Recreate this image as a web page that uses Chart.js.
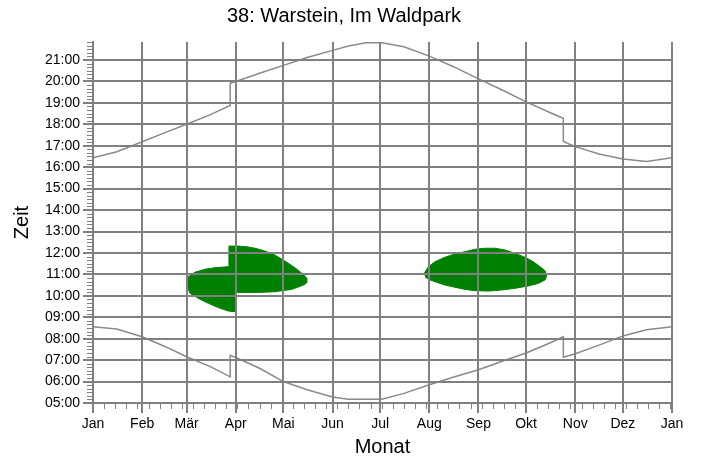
<!DOCTYPE html>
<html>
<head>
<meta charset="utf-8">
<script src="https://cdn.jsdelivr.net/npm/chart.js@4/dist/chart.umd.min.js"></script>
<style>
  html, body { margin: 0; padding: 0; background: #fff; }
  #wrap { width: 701px; height: 461px; }
</style>
</head>
<body>
<div id="wrap"><canvas id="chart" width="701" height="461"></canvas></div>
<script>
// --- axis data ---
const monthStarts = [0, 31, 59, 90, 120, 151, 181, 212, 243, 273, 304, 334, 365];
const monthLabels = ['Jan', 'Feb', 'Mär', 'Apr', 'Mai', 'Jun', 'Jul', 'Aug', 'Sep', 'Okt', 'Nov', 'Dez', 'Jan'];
const hourTicks = [5, 6, 7, 8, 9, 10, 11, 12, 13, 14, 15, 16, 17, 18, 19, 20, 21];
const timeMin = 5;
const timeMax = 21.84;
const minorDayStep = 7;      // Wochen-Striche an der x-Achse
const minorMinuteStep = 10;  // 10-Minuten-Striche an der y-Achse

// --- Sonnenauf-/untergang (Tag im Jahr, Uhrzeit in Stunden) ---
const sunDays = [0, 15, 31, 45, 59, 74, 86.5, 86.5, 90, 105, 120, 135, 151, 161, 172, 182, 196, 212, 227, 243, 258, 273, 288, 296.5, 296.5, 304, 319, 334, 349, 365];
const sunset  = [16.44, 16.72, 17.19, 17.6, 18.0, 18.45, 18.88, 19.92, 20.0, 20.38, 20.75, 21.12, 21.45, 21.65, 21.8, 21.8, 21.62, 21.18, 20.7, 20.12, 19.6, 19.05, 18.55, 18.28, 17.2, 16.96, 16.62, 16.38, 16.27, 16.44];
const sunrise = [8.56, 8.45, 8.09, 7.65, 7.16, 6.7, 6.22, 7.22, 7.12, 6.62, 6.0, 5.62, 5.28, 5.17, 5.17, 5.18, 5.45, 5.85, 6.2, 6.55, 6.95, 7.33, 7.8, 8.09, 7.13, 7.3, 7.7, 8.13, 8.42, 8.56];

// --- Schattenwurf-Zeiträume (Umriss, Tag / Stunde) ---
const springDays  = [59.1, 60.1, 64.3, 70.6, 76.9, 85.3, 85.7, 91.6, 96.9, 102.1, 108.4, 114.7, 121.0, 127.3, 132.6, 134.7, 134.7, 132.6, 125.3, 114.7, 104.2, 93.7, 89.1, 89.1, 85.3, 79.0, 72.7, 66.4, 61.1, 59.1];
const springHours = [10.69, 10.89, 11.10, 11.24, 11.31, 11.36, 12.32, 12.32, 12.29, 12.22, 12.09, 11.90, 11.62, 11.31, 11.00, 10.82, 10.60, 10.50, 10.30, 10.19, 10.16, 10.16, 10.16, 9.26, 9.29, 9.45, 9.65, 9.88, 10.12, 10.50];
const autumnDays  = [208.9, 211.4, 215.6, 221.9, 228.2, 234.5, 240.8, 247.1, 253.4, 259.7, 266.0, 272.3, 277.6, 281.8, 285.0, 286.0, 285.0, 280.7, 274.4, 266.0, 257.6, 249.2, 240.8, 234.5, 228.2, 221.9, 215.6, 211.4, 209.3];
const autumnHours = [11.06, 11.36, 11.59, 11.80, 11.95, 12.06, 12.17, 12.22, 12.22, 12.14, 11.98, 11.80, 11.59, 11.36, 11.17, 10.92, 10.74, 10.58, 10.46, 10.35, 10.27, 10.22, 10.24, 10.30, 10.40, 10.50, 10.66, 10.77, 10.89];

const gridColor = '#808080';
const lineColor = '#8a8a8a';
const shadowColor = 'rgb(0,128,0)';
const fontFamily = "'Liberation Sans', Arial, sans-serif";

const toPoints = (xs, ys) => xs.map((x, i) => ({ x: x, y: ys[i] }));
const pad2 = n => String(n).padStart(2, '0');

// kurze Zwischenstriche an beiden Achsen
const minorTicks = {
    id: 'minorTicks',
    afterDraw(chart) {
        const { ctx, chartArea, scales: { x, y } } = chart;
        ctx.save();
        ctx.strokeStyle = gridColor;
        ctx.lineWidth = 1;
        ctx.beginPath();
        for (let d = minorDayStep; d < 365; d += minorDayStep) {
            const px = Math.round(x.getPixelForValue(d)) + 0.5;
            ctx.moveTo(px, chartArea.bottom);
            ctx.lineTo(px, chartArea.bottom + 6);
        }
        for (let m = timeMin * 60 + minorMinuteStep; m <= timeMax * 60; m += minorMinuteStep) {
            if (m % 60 === 0) continue;
            const py = Math.round(y.getPixelForValue(m / 60)) + 0.5;
            ctx.moveTo(chartArea.left - 6, py);
            ctx.lineTo(chartArea.left, py);
        }
        ctx.stroke();
        ctx.restore();
    }
};

const lineStyle = { showLine: true, pointRadius: 0, borderColor: lineColor, borderWidth: 1.5, fill: false, tension: 0 };
const shapeStyle = { showLine: true, pointRadius: 0, borderColor: shadowColor, backgroundColor: shadowColor, borderWidth: 1, fill: 'shape', tension: 0 };

new Chart(document.getElementById('chart'), {
    type: 'scatter',
    data: {
        datasets: [
            { label: 'Schatten Frühjahr', data: toPoints(springDays, springHours), ...shapeStyle },
            { label: 'Schatten Herbst', data: toPoints(autumnDays, autumnHours), ...shapeStyle },
            { label: 'Sonnenuntergang', data: toPoints(sunDays, sunset), ...lineStyle },
            { label: 'Sonnenaufgang', data: toPoints(sunDays, sunrise), ...lineStyle }
        ]
    },
    options: {
        responsive: false,
        animation: false,
        layout: { padding: { left: 16, right: 29, top: 0, bottom: 0 } },
        plugins: {
            legend: { display: false },
            tooltip: { enabled: false },
            title: {
                display: true,
                text: '38: Warstein, Im Waldpark',
                color: '#000',
                font: { family: fontFamily, size: 20, weight: 'normal' },
                padding: { top: 4, bottom: 14 }
            }
        },
        scales: {
            x: {
                type: 'linear',
                min: 0,
                max: 365,
                afterBuildTicks: s => { s.ticks = monthStarts.map(v => ({ value: v })); },
                afterFit: s => { s.height = 58; },
                ticks: {
                    autoSkip: false,
                    maxRotation: 0,
                    padding: 3,
                    color: '#000',
                    font: { family: fontFamily, size: 14 },
                    callback: (v, i) => monthLabels[i]
                },
                grid: { color: gridColor, lineWidth: 2, tickLength: 10, z: 1 },
                border: { display: true, color: gridColor, width: 2, z: 1 },
                title: {
                    display: true,
                    text: 'Monat',
                    color: '#000',
                    font: { family: fontFamily, size: 20 },
                    padding: { top: 1, bottom: 2 }
                }
            },
            y: {
                type: 'linear',
                min: timeMin,
                max: timeMax,
                afterBuildTicks: s => { s.ticks = hourTicks.map(v => ({ value: v })); },
                afterFit: s => { s.width = 77; },
                ticks: {
                    padding: 3,
                    color: '#000',
                    font: { family: fontFamily, size: 14 },
                    callback: v => pad2(v) + ':00'
                },
                grid: { color: gridColor, lineWidth: 2, tickLength: 10, z: 1 },
                border: { display: true, color: gridColor, width: 2, z: 1 },
                title: {
                    display: true,
                    text: 'Zeit',
                    color: '#000',
                    font: { family: fontFamily, size: 20 },
                    padding: { top: -6, bottom: 0 }
                }
            }
        }
    },
    plugins: [minorTicks]
});
</script>
</body>
</html>
